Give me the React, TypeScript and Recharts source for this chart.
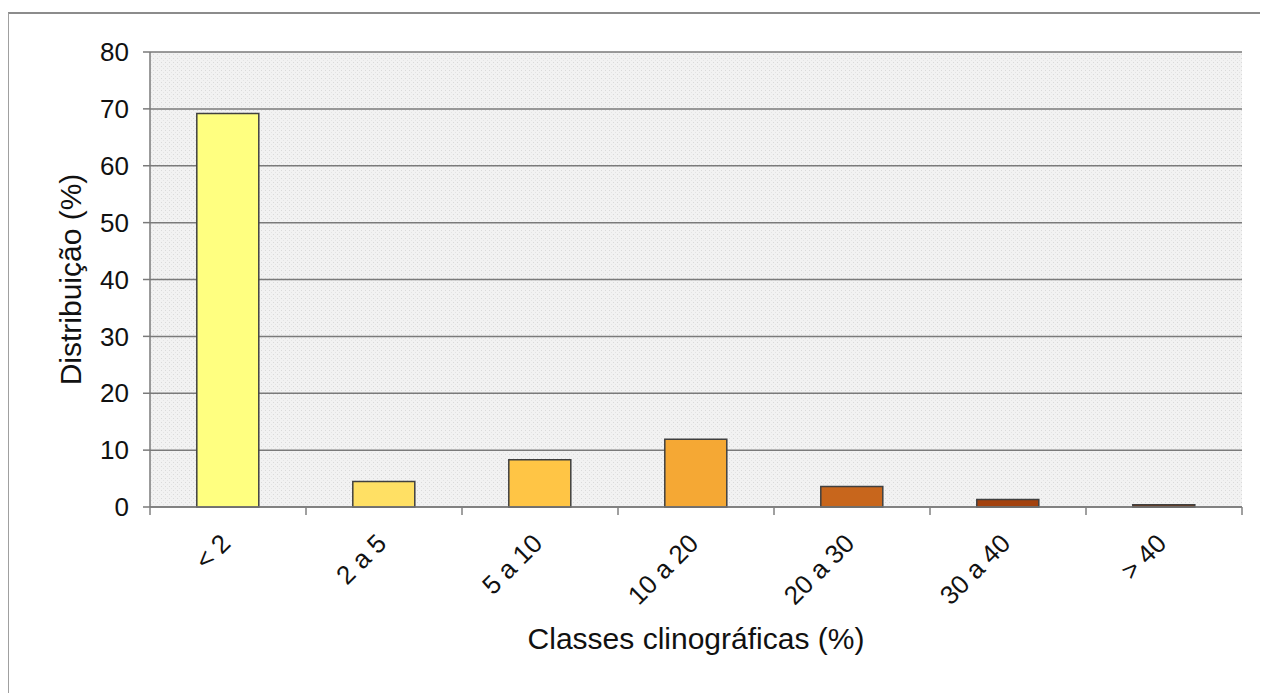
import React from "react";
import { BarChart, Bar, Cell, XAxis, YAxis, CartesianGrid, Label } from "recharts";

// slope classes and share of area (%)
const classes = ["< 2", "2 a 5", "5 a 10", "10 a 20", "20 a 30", "30 a 40", "> 40"];
const distribution = [69.2, 4.5, 8.3, 11.9, 3.6, 1.3, 0.4];
const yTicks = [0, 10, 20, 30, 40, 50, 60, 70, 80];
const COLORS = ["#FFFF80", "#FFE064", "#FFC545", "#F5A834", "#C8661C", "#A3420E", "#7A3A14"];

const data = classes.map((c, i) => ({ name: c, value: distribution[i] }));

const FONT = "'Liberation Sans', Arial, sans-serif";

function XTick(props: any) {
  const { x, y, payload, index } = props;
  const half = payload && payload.offset ? payload.offset : 78;
  const last = index === classes.length - 1;
  return (
    <g>
      <line x1={x - half} y1={y} x2={x - half} y2={y + 8} stroke="#808080" strokeWidth={1.5} />
      {last && <line x1={x + half} y1={y} x2={x + half} y2={y + 8} stroke="#808080" strokeWidth={1.5} />}
      <text
        x={x + 4}
        y={y + 38}
        transform={`rotate(-45, ${x + 4}, ${y + 38})`}
        textAnchor="end"
        fontSize={26}
        fontFamily={FONT}
        fill="#111"
      >
        {payload.value}
      </text>
    </g>
  );
}

export default function App() {
  return (
    <div
      style={{
        marginTop: 4,
        width: 1260,
        height: 681,
        borderTop: "2px solid #8c8c8c",
        borderLeft: "1px solid #a0a0a0",
        background: "#fff",
      }}
    >
      <BarChart
        width={1250}
        height={675}
        data={data}
        margin={{ top: 38, right: 17, left: -19, bottom: 5 }}
        barCategoryGap="30%"
      >
        <defs>
          <pattern id="stipple" width={4} height={4} patternUnits="userSpaceOnUse">
            <rect width={4} height={4} fill="#f2f2f2" />
            <rect x={0} y={0} width={1} height={1} fill="#dadada" />
            <rect x={2} y={2} width={1} height={1} fill="#e4e4e4" />
          </pattern>
        </defs>
        <CartesianGrid fill="url(#stipple)" vertical={false} stroke="#7a7a7a" strokeWidth={1.5} />
        <XAxis
          dataKey="name"
          interval={0}
          height={177}
          stroke="#7a7a7a"
          strokeWidth={1.5}
          tickLine={false}
          tickSize={0}
          tickMargin={0}
          tick={<XTick />}
        >
          <Label
            value="Classes clinográficas (%)"
            position="insideBottom"
            offset={35}
            fontSize={30}
            fontFamily={FONT}
            fill="#111"
          />
        </XAxis>
        <YAxis
          width={160}
          domain={[0, 80]}
          ticks={yTicks}
          interval={0}
          stroke="#7a7a7a"
          strokeWidth={1.5}
          tickSize={7}
          tickMargin={14}
          tick={{ fontSize: 26, fontFamily: FONT, fill: "#111" }}
        >
          <Label
            value="Distribuição (%)"
            angle={-90}
            position="center"
            fontSize={30}
            fontFamily={FONT}
            fill="#111"
          />
        </YAxis>
        <Bar dataKey="value" stroke="#404040" strokeWidth={1.5} isAnimationActive={false}>
          {data.map((entry, index) => (
            <Cell key={`cell-${index}`} fill={COLORS[index % COLORS.length]} />
          ))}
        </Bar>
      </BarChart>
    </div>
  );
}
